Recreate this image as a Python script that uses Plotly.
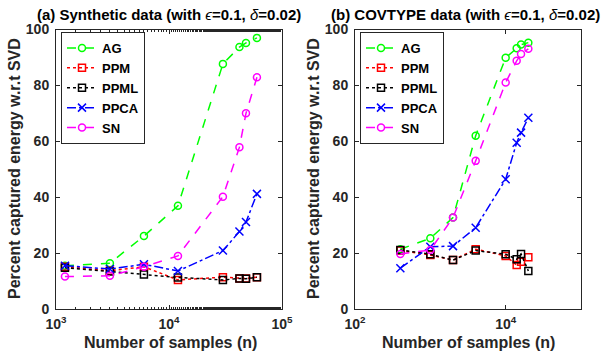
import plotly.graph_objects as go

# ---- data: (a) Synthetic ----
syn_n = [1200, 3000, 6000, 12000, 30000, 42000, 48000, 60000]
syn_AG = [15.5, 16.4, 26.1, 36.9, 87.7, 93.7, 95.2, 97.0]
syn_PPM = [15.1, 13.7, 15.1, 10.4, 11.4, 10.9, 10.9, 11.4]
syn_PPML = [14.8, 13.4, 12.3, 11.3, 10.4, 10.9, 10.8, 11.4]
syn_PPCA = [15.5, 14.3, 16.0, 13.6, 20.9, 27.7, 31.1, 41.2]
syn_SN = [11.6, 11.9, 15.1, 19.0, 40.2, 57.9, 70.0, 82.9]

# ---- data: (b) COVTYPE ----
cov_n = [400, 1000, 2000, 4000, 10000, 14000, 16000, 20000]
cov_AG = [21.4, 25.3, 32.7, 62.0, 89.9, 93.3, 94.6, 95.3]
cov_PPM = [20.9, 19.3, 17.5, 21.4, 19.0, 15.7, 16.9, 18.5]
cov_PPML = [21.1, 19.6, 17.5, 20.9, 19.6, 17.8, 19.7, 13.6]
cov_PPCA = [14.6, 22.3, 22.5, 29.1, 46.4, 59.5, 63.1, 68.4]
cov_SN = [19.7, 21.1, 32.7, 53.0, 81.0, 88.8, 91.2, 93.1]

method_names = ["AG", "PPM", "PPML", "PPCA", "SN"]
left_ticks = [1e3, 1e4, 1e5]
left_ticktext = ["<b>10<sup>3</sup></b>", "<b>10<sup>4</sup></b>", "<b>10<sup>5</sup></b>"]
right_ticks = [1e2, 1e4]
right_ticktext = ["<b>10<sup>2</sup></b>", "<b>10<sup>4</sup></b>"]
y_ticks = [0, 20, 40, 60, 80, 100]

titles = [
    "<b>(a) Synthetic data (with </b><i>ϵ</i><b>=0.1, </b><i>δ</i><b>=0.02)</b>",
    "<b>(b) COVTYPE data (with </b><i>ϵ</i><b>=0.1, </b><i>δ</i><b>=0.02)</b>",
]
x_title = "<b>Number of samples (n)</b>"
y_title = "<b>Percent captured energy w.r.t SVD</b>"

FONT = "Liberation Sans, Arial, sans-serif"
TXT = "#262626"

styles = {
    "AG": dict(color="#00ff00", dash="dash", symbol="circle-open"),
    "PPM": dict(color="#ff0000", dash="dot", symbol="square-open"),
    "PPML": dict(color="#000000", dash="dot", symbol="square-open"),
    "PPCA": dict(color="#0000ff", dash="dashdot", symbol="x-thin-open"),
    "SN": dict(color="#ff00ff", dash="dash", symbol="circle-open"),
}

fig = go.Figure()

panels = [
    ("x", "y", "legend", syn_n, [syn_AG, syn_PPM, syn_PPML, syn_PPCA, syn_SN]),
    ("x2", "y2", "legend2", cov_n, [cov_AG, cov_PPM, cov_PPML, cov_PPCA, cov_SN]),
]
for xa, ya, lg, xs, series in panels:
    for name, ys in zip(method_names, series):
        st = styles[name]
        fig.add_trace(go.Scatter(
            x=xs, y=ys, name="<b>" + name + "</b>", mode="lines+markers",
            xaxis=xa, yaxis=ya, legend=lg,
            line=dict(color=st["color"], dash=st["dash"], width=1.5),
            marker=dict(symbol=st["symbol"], size=7 if name != "PPCA" else 8,
                        color=st["color"], line=dict(color=st["color"], width=1.5)),
        ))

axis_common = dict(
    showline=True, linecolor=TXT, linewidth=1, mirror="ticks",
    ticks="inside", ticklen=4, tickcolor=TXT, showgrid=False, zeroline=False,
    automargin=False,
    tickfont=dict(family=FONT, size=14, color=TXT, weight="bold"),
)

fig.update_layout(
    width=611, height=353,
    margin=dict(l=0, r=0, t=0, b=0, autoexpand=False),
    paper_bgcolor="white", plot_bgcolor="white",
    font=dict(family=FONT, color=TXT),
    xaxis=dict(type="log", domain=[56/611, 282/611], range=[3, 5],
               tickvals=left_ticks, ticktext=left_ticktext, ticklabelstandoff=2,
               minor=dict(ticks="inside", ticklen=2.5, tickcolor=TXT, showgrid=False),
               anchor="y", **axis_common),
    yaxis=dict(domain=[44/353, 323.5/353], range=[0, 100], tickvals=y_ticks,
               ticklabelstandoff=3, anchor="x", **axis_common),
    xaxis2=dict(type="log", domain=[355/611, 581/611], range=[2, 5],
                tickvals=right_ticks, ticktext=right_ticktext, ticklabelstandoff=2,
                anchor="y2", **axis_common),
    yaxis2=dict(domain=[44/353, 323.5/353], range=[0, 100], tickvals=y_ticks,
                ticklabelstandoff=3, anchor="x2", **axis_common),
    legend=dict(x=61/611, y=(353-32)/353, xanchor="left", yanchor="top",
                bordercolor=TXT, borderwidth=1, bgcolor="white", itemwidth=30,
                font=dict(family=FONT, size=13, color="#000000"), tracegroupgap=0),
    legend2=dict(x=360/611, y=(353-32)/353, xanchor="left", yanchor="top",
                 bordercolor=TXT, borderwidth=1, bgcolor="white", itemwidth=30,
                 font=dict(family=FONT, size=13, color="#000000"), tracegroupgap=0),
    showlegend=True,
)

# panel titles
for t, cx in zip(titles, [168.5/611, 465.5/611]):
    fig.add_annotation(text=t, x=cx, y=(353-15)/353, xref="paper", yref="paper",
                       xanchor="center", yanchor="middle", showarrow=False,
                       font=dict(family=FONT, size=15, color="#000000"))

# x-axis titles
for cx in [170/611, 468/611]:
    fig.add_annotation(text=x_title, x=cx, y=(353-342)/353, xref="paper", yref="paper",
                       xanchor="center", yanchor="middle", showarrow=False,
                       font=dict(family=FONT, size=16, color=TXT))

# y-axis titles
for cx in [14/611, 313/611]:
    fig.add_annotation(text=y_title, x=cx, y=(353-169)/353, xref="paper", yref="paper",
                       xanchor="center", yanchor="middle", showarrow=False, textangle=-90,
                       font=dict(family=FONT, size=16, color=TXT))

fig.write_html("out.html", config={"displayModeBar": False},
               post_script="document.body.style.margin='0';document.body.style.overflow='hidden';")
